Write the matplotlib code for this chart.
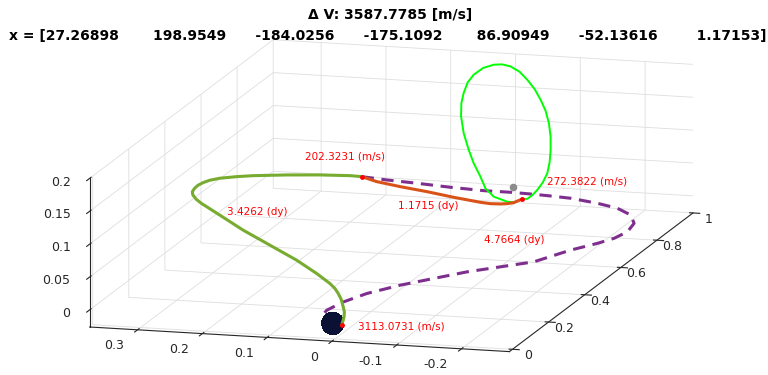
import numpy as np
import matplotlib
matplotlib.use("Agg")
import matplotlib.pyplot as plt

plt.rcParams['font.family'] = ['DejaVu Sans']
plt.rcParams['axes.unicode_minus'] = False
plt.rcParams['grid.color'] = '#dedede'
plt.rcParams['grid.linewidth'] = 0.6

# Earth-Moon rotating frame, normalised units
mu = 0.01215
earth_r = 6378.0 / 384400.0

# Earth -> 202 m/s burn (green)
transfer_x = [-0.0212, 0.0185, 0.0437, 0.0684, 0.1069, 0.1355, 0.1571, 0.1780, 0.2141, 0.2654,
              0.3213, 0.3771, 0.4388, 0.4933, 0.5096, 0.5287, 0.5442, 0.5617, 0.5812, 0.5987,
              0.6200, 0.6444, 0.6799, 0.7157, 0.8010, 0.8950, 0.9738, 0.9985]
transfer_y = [-0.0163, -0.0088, -0.0023, 0.0063, 0.0201, 0.0327, 0.0438, 0.0574, 0.0880, 0.1332,
              0.1901, 0.2470, 0.3002, 0.3438, 0.3561, 0.3667, 0.3719, 0.3732, 0.3735, 0.3706,
              0.3662, 0.3575, 0.3416, 0.3259, 0.2980, 0.2726, 0.2482, 0.2370]
transfer_z = [0.000, 0.004, 0.006, 0.008, 0.0105, 0.013, 0.0155, 0.018, 0.024, 0.031,
              0.039, 0.047, 0.054, 0.058, 0.060, 0.062, 0.0635, 0.065, 0.0655, 0.066,
              0.0655, 0.064, 0.060, 0.055, 0.040, 0.022, 0.006, 0.000]

# 202 m/s burn -> NRHO insertion (orange)
coast_x = [0.9985, 0.996, 0.995, 0.990, 0.985, 0.975, 0.976, 0.978, 0.980, 0.982, 0.9959]
coast_y = [0.2370, 0.2130, 0.1766, 0.1339, 0.0913, 0.0472, 0.0320, 0.0171, 0.0073, -0.0024, -0.0104]
coast_z = [0.000, -0.0057, -0.0110, -0.0151, -0.0202, -0.0232, -0.0246, -0.0246, -0.0240, -0.0223, -0.0196]

# 4.7664 day arc (dashed)
flyby_x = [0.9985, 0.9860, 0.9756, 0.9616, 0.9518, 0.9516, 0.9472, 0.9423, 0.9347, 0.9113,
           0.8852, 0.8448, 0.7895, 0.7296, 0.6792, 0.6384, 0.5820, 0.4875, 0.4400, 0.3925,
           0.3341, 0.2751, 0.2051, 0.1384, 0.0752, 0.0158]
flyby_y = [0.2370, 0.1948, 0.1454, 0.0900, 0.0357, -0.0057, -0.0425, -0.0701, -0.1033, -0.1511,
           -0.1893, -0.2211, -0.2417, -0.2482, -0.2414, -0.2271, -0.2016, -0.1711, -0.1327, -0.0944,
           -0.0591, -0.0239, 0.0081, 0.0257, 0.0338, 0.0276]
flyby_z = [0.0] * 26

# NRHO (bright green)
nrho_x = [0.9959, 0.9976, 0.9975, 0.9954, 0.9915, 0.9860, 0.9796, 0.9732, 0.9652, 0.9571, 0.9506,
          0.9456, 0.9403, 0.9363, 0.9328, 0.9308, 0.9304, 0.9312, 0.9335, 0.9372, 0.9416, 0.9466,
          0.9519, 0.9578, 0.9643, 0.9709, 0.9769, 0.9824, 0.9869, 0.9909, 0.9936, 0.9956, 0.9959]
nrho_y = [-0.0104, 0.0020, 0.0121, 0.0323, 0.0441, 0.0503, 0.0589, 0.0648, 0.0703, 0.0721, 0.0698,
          0.0649, 0.0572, 0.0468, 0.0313, 0.0143, 0.0012, -0.0114, -0.0247, -0.0356, -0.0457, -0.0536,
          -0.0598, -0.0633, -0.0641, -0.0623, -0.0591, -0.0540, -0.0459, -0.0361, -0.0276, -0.0193, -0.0104]
nrho_z = [-0.0196, -0.0252, -0.0249, -0.0180, -0.0051, 0.0134, 0.0347, 0.0559, 0.0827, 0.1096, 0.1315,
          0.1481, 0.1658, 0.1789, 0.1908, 0.1972, 0.1985, 0.1960, 0.1882, 0.1759, 0.1614, 0.1445,
          0.1270, 0.1072, 0.0855, 0.0638, 0.0436, 0.0254, 0.0102, -0.0029, -0.0120, -0.0185, -0.0196]

burn_labels = ["3113.0731 (m/s)", "202.3231 (m/s)", "272.3822 (m/s)"]
burn_text_pos = [(-0.0215, -0.0416, 0.0), (0.887, 0.294, 0.05), (0.947, -0.064, 0.02)]
tof_labels = ["3.4262 (dy)", "1.1715 (dy)", "4.7664 (dy)"]
tof_text_pos = [(0.704, 0.363, 0.0), (0.813, 0.129, 0.0), (0.616, -0.059, 0.0)]

dv_total = 3587.7785
x_vec = ["27.26898", "198.9549", "-184.0256", "-175.1092", "86.90949", "-52.13616", "1.17153"]

xlim = (-0.017, 1.0)
ylim = (-0.274, 0.374)
zlim = (-0.026, 0.2)
xticks = [0, 0.2, 0.4, 0.6, 0.8, 1]
yticks = [-0.2, -0.1, 0, 0.1, 0.2, 0.3]
zticks = [0, 0.05, 0.1, 0.15, 0.2]

W, H = 768, 375
fig = plt.figure(figsize=(W / 100, H / 100), dpi=100)
side = 801
ax = fig.add_axes([-20 / W, -232 / H, side / W, side / H], projection='3d', computed_zorder=False)
ax.set_proj_type('ortho')
ax.view_init(elev=12.15, azim=-164.43)

ax.plot(flyby_x, flyby_y, flyby_z, color='#7E2F8E', lw=2.2, dashes=(4, 2.5), zorder=1)
ax.plot(nrho_x, nrho_y, nrho_z, color='#00FF00', lw=1.4, zorder=2)
ax.plot(coast_x, coast_y, coast_z, color='#D95319', lw=2.2, zorder=3)

u = np.linspace(0, 2 * np.pi, 30)
v = np.linspace(0, np.pi, 16)
ex = -mu + earth_r * np.outer(np.cos(u), np.sin(v))
ey = earth_r * np.outer(np.sin(u), np.sin(v))
ez = earth_r * np.outer(np.ones_like(u), np.cos(v))
ax.plot_surface(ex, ey, ez, color='#0b1035', shade=False, linewidth=0, antialiased=False, zorder=4)

ax.plot(transfer_x, transfer_y, transfer_z, color='#77AC30', lw=2.2, zorder=5)
ax.scatter([1 - mu], [0], [0], s=20, color='#8c8c8c', depthshade=False, zorder=6)

burn_pts = [(transfer_x[0], transfer_y[0], transfer_z[0]),
            (coast_x[0], coast_y[0], coast_z[0]),
            (coast_x[-1], coast_y[-1], coast_z[-1])]
for p in burn_pts:
    ax.plot([p[0]], [p[1]], [p[2]], 'o', color='red', ms=2.5, zorder=7)

for s, p in zip(burn_labels + tof_labels, burn_text_pos + tof_text_pos):
    ax.text(p[0], p[1], p[2], s, color='red', fontsize=7.5, ha='left', va='center', zorder=8)

ax.set_xlim(*xlim)
ax.set_ylim(*ylim)
ax.set_zlim(*zlim)
ax.set_box_aspect((xlim[1] - xlim[0], ylim[1] - ylim[0], zlim[1] - zlim[0]))

ax.set_xticks(xticks)
ax.set_xticklabels(['%g' % t for t in xticks], ha='center', va='center')
ax.set_yticks(yticks)
ax.yaxis.set_tick_params(labelbottom=False)
ax.set_zticks(zticks)
ax.set_zticklabels(['%g' % t for t in zticks], ha='right', va='center')

# y tick labels placed like MATLAB: right-aligned, below-left of each tick
for t in yticks:
    ax.text(xlim[0] - 0.075, t, zlim[0] - 0.0088, '%g' % t, fontsize=9, color='#262626',
            ha='right', va='center', zorder=9)

for axis in (ax.xaxis, ax.yaxis, ax.zaxis):
    axis.set_pane_color((1, 1, 1, 1))
    axis.pane.set_edgecolor('none')
    axis.line.set_color('#262626')
    axis.line.set_linewidth(0.8)
    axis._axinfo['tick']['color'] = '#262626'
    axis.set_tick_params(labelsize=9, colors='#262626')
    axis.label.set_visible(False)
ax.xaxis.set_tick_params(pad=3)
ax.zaxis.set_tick_params(pad=1.5)

fig.text(390 / W, 1 - 19 / H, "\u0394 V: %.4f [m/s]" % dv_total, ha='center', va='baseline',
         fontsize=10, fontweight='bold')
gaps = [7, 6, 6, 7, 6, 8]
line2 = "x = [" + x_vec[0]
for g, s in zip(gaps, x_vec[1:]):
    line2 += " " * g + s
line2 += "]"
fig.text(388 / W, 1 - 40 / H, line2, ha='center', va='baseline', fontsize=10, fontweight='bold')

fig.savefig("out.png", dpi=100)
